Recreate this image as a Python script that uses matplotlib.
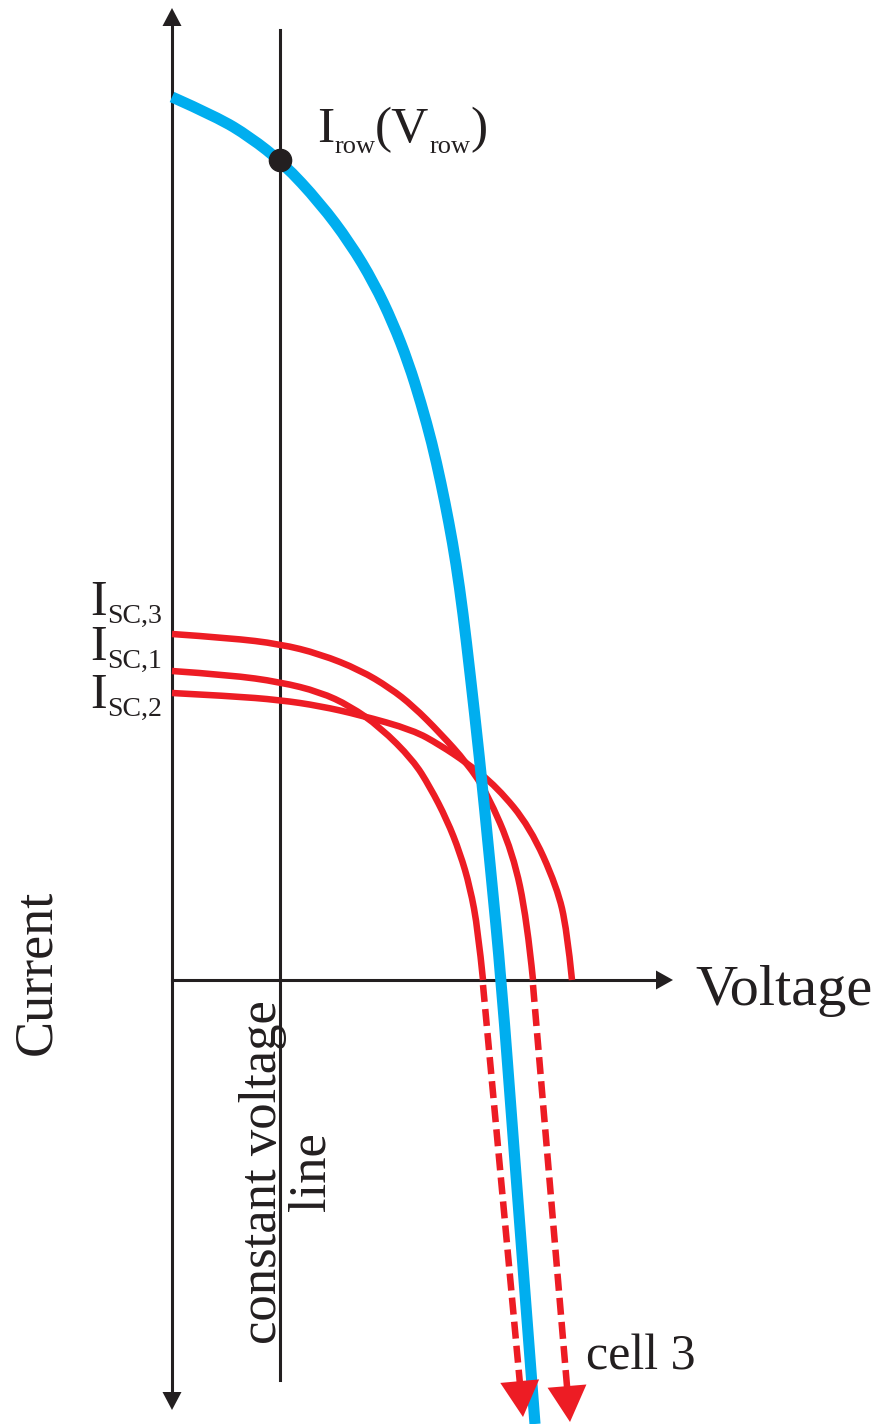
import numpy as np
import matplotlib
matplotlib.use('Agg')
import matplotlib.pyplot as plt
import matplotlib.transforms as mtransforms
from matplotlib.path import Path
from matplotlib.patches import PathPatch

plt.rcParams['font.family'] = ['Liberation Serif', 'DejaVu Serif']

# colours
RED = '#ED1C24'
BLUE = '#00AEEF'
BLACK = '#231F20'

#%% data (V and I in arbitrary units)
# series connected row: I(V) of the whole row
v_row = [0.00, 0.45, 0.78, 1.11, 1.48, 1.78, 2.02, 2.21, 2.365, 2.49, 2.60, 2.69, 2.77,
         2.84, 2.91, 2.98, 3.07, 3.18, 3.295, 3.415, 3.63]
i_row = [8.83, 8.63, 8.43, 8.17, 7.77, 7.37, 6.97, 6.57, 6.17, 5.77, 5.37, 4.97, 4.57,
         4.17, 3.67, 3.07, 2.27, 1.17, -0.03, -1.63, -4.44]

# single cells
v_cell3 = [0.00, 0.58, 1.08, 1.48, 1.88, 2.18, 2.41, 2.68, 2.95, 3.15, 3.41, 3.55, 3.61]
i_cell3 = [3.46, 3.42, 3.36, 3.26, 3.10, 2.92, 2.74, 2.47, 2.17, 1.87, 1.27, 0.60, 0.00]

v_cell1 = [0.00, 0.58, 1.08, 1.48, 1.78, 2.08, 2.41, 2.58, 2.75, 2.88, 2.98, 3.06, 3.11]
i_cell1 = [3.09, 3.05, 2.98, 2.88, 2.74, 2.53, 2.20, 1.93, 1.60, 1.27, 0.93, 0.50, 0.00]

v_cell2 = [0.00, 0.58, 1.08, 1.48, 1.88, 2.41, 2.68, 2.95, 3.25, 3.58, 3.85, 3.95, 4.00]
i_cell2 = [2.87, 2.84, 2.80, 2.74, 2.65, 2.50, 2.35, 2.17, 1.93, 1.53, 0.93, 0.50, 0.00]

# reverse bias continuation (dashed) : start on V axis, arrow tip
rev_cell1 = [(3.11, 0.0), (3.51, -4.37)]
rev_cell3 = [(3.61, 0.0), (3.98, -4.42)]

# operating point / constant voltage line
v_const = 1.08
i_const_range = (-4.00, 9.50)
op_point = (1.08, 8.20)

# axes extents
v_axis = (0.0, 5.01)
i_axis = (-4.30, 9.72)

#%% figure, one axes on the whole canvas (1 unit = 100 px)
fig = plt.figure(figsize=(8.82, 14.24), dpi=100)
ax = fig.add_axes([0, 0, 1, 1])
ax.set_xlim(-1.72, 7.10)
ax.set_ylim(-4.44, 9.80)
ax.axis('off')


def smooth_curve(v, i, **kw):
    '''read points used as control points of a quadratic bezier chain'''
    p = np.column_stack([v, i])
    verts = [p[0]]
    codes = [Path.MOVETO]
    for k in range(1, len(p) - 1):
        end = p[k + 1] if k == len(p) - 2 else (p[k] + p[k + 1]) / 2
        verts += [p[k], end]
        codes += [Path.CURVE3, Path.CURVE3]
    ax.add_patch(PathPatch(Path(verts, codes), fill=False, capstyle='butt', **kw))


def head(tip, frm, w, l, color):
    '''filled triangle arrow head pointing to tip, coming from frm'''
    tip = np.array(tip); frm = np.array(frm)
    u = (tip - frm) / np.hypot(*(tip - frm))
    base = tip - l * u
    ax.arrow(base[0], base[1], l * u[0], l * u[1], width=0.0001, head_width=w,
             head_length=l, length_includes_head=True, fc=color, ec='none', zorder=6)


# axes lines
ax.plot([0, 0], [i_axis[0] + 0.15, i_axis[1] - 0.15], color=BLACK, lw=2.2, zorder=2)
ax.plot([v_axis[0], v_axis[1] - 0.15], [0, 0], color=BLACK, lw=2.2, zorder=2)
head((0, i_axis[1]), (0, 0), 0.19, 0.18, BLACK)
head((0, i_axis[0]), (0, 0), 0.19, 0.18, BLACK)
head((v_axis[1], 0), (0, 0), 0.19, 0.17, BLACK)

# constant voltage line
ax.plot([v_const, v_const], i_const_range, color=BLACK, lw=2.2, zorder=2)

# cell curves
for v, i in [(v_cell3, i_cell3), (v_cell1, i_cell1), (v_cell2, i_cell2)]:
    smooth_curve(v, i, ec=RED, lw=4.7, zorder=3)

# dashed reverse bias parts with arrow heads
for (p0, p1) in [rev_cell1, rev_cell3]:
    p0 = np.array(p0); p1 = np.array(p1)
    u = (p1 - p0) / np.hypot(*(p1 - p0))
    end = p1 - 0.33 * u
    ax.plot([p0[0], end[0]], [p0[1] - 0.05, end[1]], color=RED, lw=4.7,
            dashes=(2.6, 1.1), zorder=3)
    head(p1, p0, 0.39, 0.36, RED)

# row curve
smooth_curve(v_row, i_row, ec=BLUE, lw=8, zorder=4)
ax.plot(*op_point, 'o', color=BLACK, ms=16, zorder=7)


#%% text with subscripts
def label(x, y, parts):
    r = fig.canvas.get_renderer()
    dx = 0
    for s, size, dy in parts:
        tr = mtransforms.offset_copy(ax.transData, fig=fig, x=dx, y=dy, units='dots')
        t = ax.text(x, y, s, fontsize=size, transform=tr, va='baseline', ha='left', color=BLACK)
        dx += t.get_window_extent(r).width


label(1.45, 8.38, [('I', 37, 0), ('row', 19, -11), ('(V', 37, 0), ('row', 19, -11), (')', 37, 0)])
label(-0.82, 3.65, [('I', 36, 0), ('SC,3', 20, -8)])
label(-0.82, 3.20, [('I', 36, 0), ('SC,1', 20, -8)])
label(-0.82, 2.72, [('I', 36, 0), ('SC,2', 20, -8)])

ax.text(5.23, -0.25, 'Voltage', fontsize=42, va='baseline', ha='left', color=BLACK)
ax.text(-1.35, 0.08, 'Current', fontsize=39, rotation=90, va='center', ha='center', color=BLACK)
ax.text(1.15, -1.92, 'constant voltage\nline', fontsize=38, rotation=90, va='center',
        ha='center', multialignment='center', linespacing=1.0, color=BLACK)
ax.text(4.14, -3.90, 'cell 3', fontsize=36, va='baseline', ha='left', color=BLACK)

fig.savefig('out.png', dpi=100)
